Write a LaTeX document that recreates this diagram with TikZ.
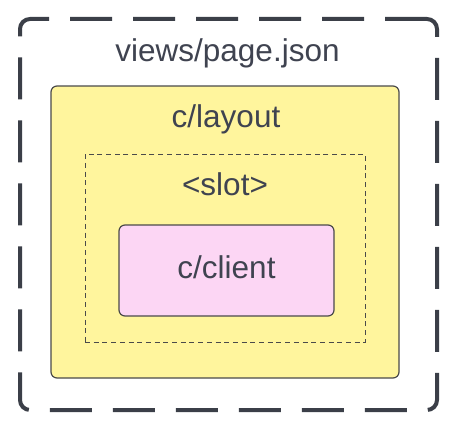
\documentclass[tikz,border=0pt]{standalone}
\usepackage{fontspec}
\setmainfont{Liberation Sans}
\definecolor{framecol}{HTML}{3B3F48}
\definecolor{textcol}{HTML}{3F4350}
\definecolor{yellowfill}{HTML}{FFF59D}
\definecolor{pinkfill}{HTML}{FCD6F4}
\definecolor{thinline}{HTML}{4A4A4A}
\tikzset{
  outerbox/.style={draw=framecol, line width=4pt, rounded corners=10pt, dash pattern=on 42pt off 21pt, inner sep=0pt},
  layoutbox/.style={draw=thinline, line width=1.2pt, fill=yellowfill, rounded corners=6pt, inner sep=0pt},
  slotbox/.style={draw=thinline, line width=1pt, dash pattern=on 5pt off 3.7pt, inner sep=0pt},
  clientbox/.style={draw=thinline, line width=1.2pt, fill=pinkfill, rounded corners=6pt, inner sep=0pt},
  lbl/.style={anchor=base, text=textcol, font=\fontsize{31.5pt}{36pt}\selectfont, inner sep=0pt}
}
\begin{document}
\begin{tikzpicture}[x=1pt,y=1pt]
\useasboundingbox (0,0) rectangle (460,-428);
\node[outerbox, minimum width=417pt, minimum height=391pt] (outer) at (228.5,-214.5) {};
\node[layoutbox, minimum width=348pt, minimum height=292pt] (layout) at (225,-232) {};
\node[slotbox, minimum width=280pt, minimum height=188pt] (slot) at (225,-248) {};
\node[clientbox, minimum width=215pt, minimum height=91pt] (client) at (226.5,-270.5) {};
\node[lbl] (outerlabel) at (227.5,-62) {views/page.json};
\node[lbl] (layoutlabel) at (226,-127) {c/layout};
\node[lbl] (slotlabel) at (225,-195) {<slot>};
\node[lbl] (clientlabel) at (226.5,-278) {c/client};
\end{tikzpicture}
\end{document}
